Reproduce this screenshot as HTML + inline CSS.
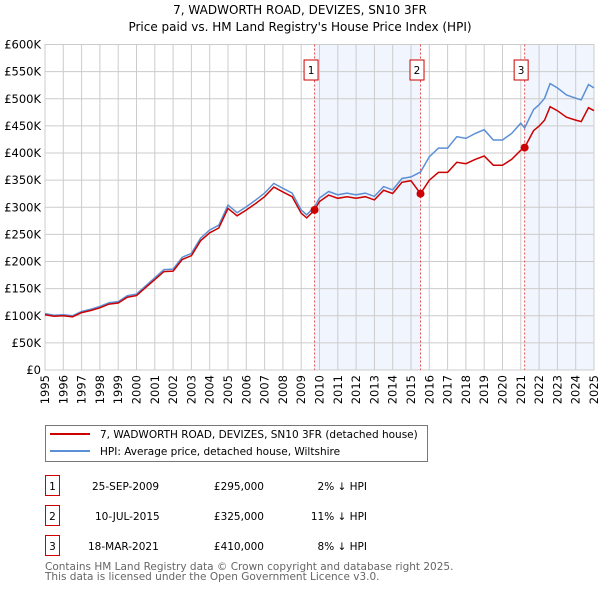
<!DOCTYPE html>
<html><head><meta charset="utf-8"><style>
body{margin:0;background:#fff;font-family:"DejaVu Sans","Liberation Sans",sans-serif;}
svg text{font-family:"DejaVu Sans","Liberation Sans",sans-serif;}
</style></head><body>
<svg id="chart" width="600" height="590" xmlns="http://www.w3.org/2000/svg">
<text x="300" y="14" text-anchor="middle" font-size="12">7, WADWORTH ROAD, DEVIZES, SN10 3FR</text>
<text x="300" y="31" text-anchor="middle" font-size="12">Price paid vs. HM Land Registry's House Price Index (HPI)</text>
<g id="plot"></g>
<g>
<rect x="45.5" y="425.5" width="382" height="36" fill="#fff" stroke="#777"/>
<line x1="50" y1="434" x2="90" y2="434" stroke="#cc0000" stroke-width="2"/>
<text x="100" y="438" font-size="10.5">7, WADWORTH ROAD, DEVIZES, SN10 3FR (detached house)</text>
<line x1="50" y1="451" x2="90" y2="451" stroke="#5b8fd6" stroke-width="2"/>
<text x="100" y="455" font-size="10.5">HPI: Average price, detached house, Wiltshire</text>
</g>
<g font-size="10.5">
<rect x="45.5" y="475.5" width="14" height="20" fill="#fff" stroke="#cc0000"/><text x="52.5" y="490" text-anchor="middle">1</text>
<text x="92" y="490">25-SEP-2009</text><text x="264" y="490" text-anchor="end">£295,000</text><text x="367" y="490" text-anchor="end">2% ↓ HPI</text>
<rect x="45.5" y="505.5" width="14" height="20" fill="#fff" stroke="#cc0000"/><text x="52.5" y="520" text-anchor="middle">2</text>
<text x="95" y="520">10-JUL-2015</text><text x="264" y="520" text-anchor="end">£325,000</text><text x="367" y="520" text-anchor="end">11% ↓ HPI</text>
<rect x="45.5" y="535.5" width="14" height="20" fill="#fff" stroke="#cc0000"/><text x="52.5" y="550" text-anchor="middle">3</text>
<text x="88" y="550">18-MAR-2021</text><text x="264" y="550" text-anchor="end">£410,000</text><text x="367" y="550" text-anchor="end">8% ↓ HPI</text>
</g>
<text x="45" y="570" font-size="10.5" fill="#666">Contains HM Land Registry data © Crown copyright and database right 2025.</text>
<text x="45" y="580" font-size="10.5" fill="#666">This data is licensed under the Open Government Licence v3.0.</text>
</svg>
<script>
const hpiYears=[1995,1995.5,1996,1996.5,1997,1997.5,1998,1998.5,1999,1999.5,2000,2000.5,2001,2001.5,2002,2002.5,2003,2003.5,2004,2004.5,2005,2005.5,2006,2006.5,2007,2007.5,2008,2008.5,2009,2009.3,2009.73,2010,2010.5,2011,2011.5,2012,2012.5,2013,2013.5,2014,2014.5,2015,2015.52,2016,2016.5,2017,2017.5,2018,2018.5,2019,2019.5,2020,2020.5,2021,2021.21,2021.7,2022,2022.3,2022.6,2023,2023.5,2024,2024.3,2024.7,2025];
const hpiValues=[104,101,102,100,108,112,117,124,126,137,140,155,170,185,186,208,215,243,258,267,304,290,301,313,326,344,335,326,295,286,301,317,329,323,326,323,326,320,338,332,353,356,365,393,409,409,430,427,436,443,424,424,436,455,446,480,489,501,528,520,507,501,498,526,520];
const saleYears=[2009.73,2015.52,2021.21];
const salePrices=[295,325,410];
const saleLabels=["1","2","3"];
const yTicks=[0,50,100,150,200,250,300,350,400,450,500,550,600];
const xTicks=[1995,1996,1997,1998,1999,2000,2001,2002,2003,2004,2005,2006,2007,2008,2009,2010,2011,2012,2013,2014,2015,2016,2017,2018,2019,2020,2021,2022,2023,2024,2025];
const L=45,R=594,T=44.5,B=370;
const X=y=>L+(y-1995)/30*(R-L);
const Y=v=>B-v/600*(B-T);
const NS='http://www.w3.org/2000/svg';
const g=document.getElementById('plot');
function mk(t,a){const e=document.createElementNS(NS,t);for(const k in a)e.setAttribute(k,a[k]);g.appendChild(e);return e;}
function hpiAt(t){for(let i=0;i<hpiYears.length-1;i++){if(t>=hpiYears[i]&&t<=hpiYears[i+1]){const f=(t-hpiYears[i])/(hpiYears[i+1]-hpiYears[i]);return hpiValues[i]+f*(hpiValues[i+1]-hpiValues[i]);}}return hpiValues[hpiValues.length-1];}
let s1=mk('rect',{x:X(saleYears[0]),y:T,width:X(saleYears[1])-X(saleYears[0]),height:B-T,fill:'#eef3fc',opacity:0.8});


let s2=mk('rect',{x:X(saleYears[2]),y:T,width:R-X(saleYears[2]),height:B-T,fill:'#eef3fc',opacity:0.8});


yTicks.forEach(v=>{let l=mk('line',{x1:L,x2:R,y1:Y(v),y2:Y(v),stroke:'#ccc'});


let t=mk('text',{x:L-4,y:Y(v)+4,'text-anchor':'end','font-size':11.5});t.textContent=v===0?'£0':'£'+v+'K';

});
xTicks.forEach(y=>{let l=mk('line',{x1:X(y),x2:X(y),y1:T,y2:B,stroke:'#ccc'});


let t=mk('text',{x:0,y:0,'text-anchor':'end','font-size':11.5,transform:`translate(${X(y)+4},${B+5}) rotate(-90)`});t.textContent=y;

});
let fr=mk('rect',{x:L,y:T,width:R-L,height:B-T,fill:'none',stroke:'#ccc'});


saleYears.forEach((s,i)=>{let l=mk('line',{x1:X(s),x2:X(s),y1:T,y2:B,stroke:'#e05050','stroke-dasharray':'2,2'});


let r=mk('rect',{x:X(s)-10.5,y:60,width:14,height:20,fill:'#fff',stroke:'#cc0000'});


let t=mk('text',{x:X(s)-3.5,y:74,'text-anchor':'middle','font-size':10.5});t.textContent=saleLabels[i];

});
let hp=hpiYears.map((y,i)=>X(y).toFixed(1)+','+Y(hpiValues[i]).toFixed(1)).join(' ');
let hl=mk('polyline',{points:hp,fill:'none',stroke:'#5b8fd6','stroke-width':1.5});


let pts=[];
hpiYears.forEach((y,i)=>{let k=0;for(let j=0;j<saleYears.length;j++)if(y>=saleYears[j])k=j;
 let ratio=salePrices[k]/hpiAt(saleYears[k]);
 pts.push([y,hpiValues[i]*ratio]);
 saleYears.forEach((s,j)=>{if(i<hpiYears.length-1&&s>y&&s<hpiYears[i+1]){pts.push([s,hpiAt(s)*ratio]);pts.push([s,salePrices[j]]);}});
});
let rl=mk('polyline',{points:pts.map(p=>X(p[0]).toFixed(1)+','+Y(p[1]).toFixed(1)).join(' '),fill:'none',stroke:'#cc0000','stroke-width':1.5});


saleYears.forEach((s,i)=>{let c=mk('circle',{cx:X(s),cy:Y(salePrices[i]),r:4,fill:'#cc0000'});

});
</script>
</body></html>
